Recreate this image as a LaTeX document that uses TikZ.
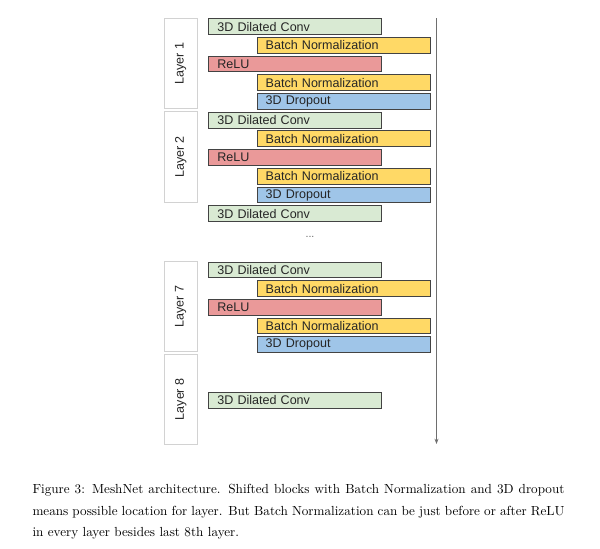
\documentclass[tikz,border=0pt]{standalone}
\usepackage{fontspec}
\usetikzlibrary{arrows.meta}
\newfontfamily\boxfont{Liberation Sans}

\definecolor{convgreen}{RGB}{217,234,211}
\definecolor{bnyellow}{RGB}{255,217,102}
\definecolor{relured}{RGB}{234,153,153}
\definecolor{dropblue}{RGB}{159,197,232}
\definecolor{boxedge}{RGB}{67,67,67}
\definecolor{layeredge}{RGB}{210,210,210}
\definecolor{flowgray}{RGB}{110,110,110}

\tikzset{every picture/.style={line width=0.75pt}}
\tikzset{
  opbox/.style={draw=boxedge, anchor=north west, minimum height=11.8pt, inner xsep=6.4pt, inner ysep=0pt,
    align=left, text=black!85, font=\boxfont\fontsize{9.4}{11}\selectfont},
  shortbox/.style={opbox, text width=116.5pt},
  longbox/.style={opbox, text width=117.2pt},
  convbox/.style={shortbox, fill=convgreen},
  relubox/.style={shortbox, fill=relured},
  bnbox/.style={longbox, fill=bnyellow},
  dropbox/.style={longbox, fill=dropblue},
  layerbox/.style={draw=layeredge, fill=white, rotate=90, minimum width=67.8pt, minimum height=25pt,
    inner sep=0pt, text=black!85, font=\boxfont\fontsize{9.4}{11}\selectfont},
  flowarrow/.style={draw=flowgray, line width=0.6pt, -{Stealth[length=4pt,width=3pt]}}
}

\begin{document}
\begin{tikzpicture}[x=0.75pt,y=0.75pt,yscale=-1,xscale=1]
\useasboundingbox (0,0) rectangle (600,549);

% Layer labels
\node [layerbox] (layer1) at (180.7,63.5) {Layer 1};
\node [layerbox] (layer2) at (180.7,157) {Layer 2};
\node [layerbox] (layer7) at (180.7,306.4) {Layer 7};
\node [layerbox] (layer8) at (180.7,399.3) {Layer 8};

% Layer 1
\node [convbox] (conv1) at (208.3,18.3) {3D Dilated Conv};
\node [bnbox] (bn1a) at (256.7,37.0) {Batch Normalization};
\node [relubox] (relu1) at (208.3,55.7) {ReLU};
\node [bnbox] (bn1b) at (256.7,74.4) {Batch Normalization};
\node [dropbox] (drop1) at (256.7,93.1) {3D Dropout};

% Layer 2
\node [convbox] (conv2) at (208.3,111.8) {3D Dilated Conv};
\node [bnbox] (bn2a) at (256.7,130.5) {Batch Normalization};
\node [relubox] (relu2) at (208.3,149.2) {ReLU};
\node [bnbox] (bn2b) at (256.7,167.9) {Batch Normalization};
\node [dropbox] (drop2) at (256.7,186.6) {3D Dropout};

% Layer 3 start
\node [convbox] (conv3) at (208.3,205.3) {3D Dilated Conv};

% Text Node
\node [text=black!60, font=\boxfont\fontsize{8}{9}\selectfont] (dots) at (310,236.5) {...};

% Layer 7
\node [convbox] (conv7) at (208.3,261.7) {3D Dilated Conv};
\node [bnbox] (bn7a) at (256.7,280.3) {Batch Normalization};
\node [relubox] (relu7) at (208.3,298.9) {ReLU};
\node [bnbox] (bn7b) at (256.7,317.5) {Batch Normalization};
\node [dropbox] (drop7) at (256.7,336.1) {3D Dropout};

% Layer 8
\node [convbox] (conv8) at (208.3,391.8) {3D Dilated Conv};

% Flow direction
\coordinate (flowtop) at (436.5,18.5);
\coordinate (flowend) at (436.5,444);
\draw [flowarrow] (flowtop) -- (flowend);

% Caption
\node [anchor=north west, inner sep=0pt, text width=399pt, align=justify,
  font=\fontsize{9.87}{16.1}\selectfont] (caption) at (32,484)
  {Figure 3: MeshNet architecture. Shifted blocks with Batch Normalization and 3D dropout\linebreak
   means possible location for layer. But Batch Normalization can be just before or after ReLU\linebreak
   in every layer besides last 8th layer.};

\end{tikzpicture}
\end{document}
